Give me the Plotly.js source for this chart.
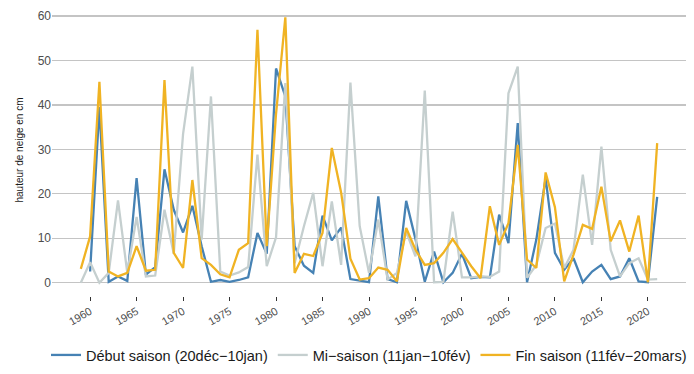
<!DOCTYPE html>
<html>
<head>
<meta charset="utf-8">
<script src="https://cdn.plot.ly/plotly-3.0.1.min.js"></script>
<style>html,body{margin:0;padding:0;background:#fff;}#chart{width:694px;height:374px;}</style>
</head>
<body>
<div id="chart"></div>
<script>
const years = [];
for (let y = 1959; y <= 2021; y++) years.push(y);

const debutSaison = [null, 2.5, 39.5, 0.2, 1.4, 0.4, 23.5, 1.8, 3.5, 25.5,
  16.4, 11.3, 17.3, 8.2, 0.2, 0.6, 0.2, 0.6, 1.2, 11.2,
  6.5, 48.2, 41.9, 8.2, 3.8, 2.2, 15.1, 9.5, 12.4, 0.8,
  0.5, 0.1, 19.4, 0.8, 0.1, 18.4, 9.8, 0.2, 7.0, 0.1,
  2.2, 6.5, 1.0, 1.3, 1.2, 15.3, 8.9, 35.9, 0.1, 9.7,
  23.5, 6.7, 2.9, 5.5, 0.1, 2.5, 4.0, 0.8, 1.4, 5.5,
  0.3, 0.1, 19.3];

const miSaison = [0, 4.6, 0, 2.2, 18.5, 2.2, 14.8, 1.4, 1.6, 16.4,
  6.5, 33.5, 48.6, 9.7, 41.9, 2.5, 1.6, 2.3, 3.5, 28.8,
  3.7, 10.2, 44.9, 4.4, 12.7, 20.2, 3.7, 18.3, 4.0, 45.0,
  12.7, 2.2, 14.2, 0.7, 2.2, 11.5, 5.9, 43.2, 0.1, 0.2,
  16.0, 1.2, 1.2, 1.4, 1.3, 2.5, 42.6, 48.6, 1.1, 4.0,
  12.3, 13.3, 3.3, 7.4, 24.3, 8.5, 30.6, 7.4, 1.4, 4.4,
  5.5, 0.7, 0.8];

const finSaison = [3.1, 10.4, 45.2, 2.5, 1.4, 2.2, 8.2, 2.7, 2.9, 45.6,
  6.7, 3.3, 23.1, 5.5, 4.0, 1.9, 1.2, 7.4, 8.9, 56.9,
  8.2, 38.0, 59.7, 2.2, 6.5, 6.0, 11.2, 30.3, 20.3, 5.4,
  0.7, 1.0, 3.4, 2.9, 0.3, 12.3, 7.4, 4.0, 4.4, 6.7,
  9.8, 6.7, 3.7, 1.0, 17.2, 8.5, 13.4, 31.0, 5.2, 3.3,
  24.8, 17.0, 0.3, 6.3, 13.0, 12.1, 21.6, 9.3, 14.0, 7.0,
  15.1, 0.1, 31.4];

const seriesNames = ["Début saison (20déc−10jan)", "Mi−saison (11jan−10fév)", "Fin saison (11fév−20mars)"];
const seriesColors = ["#4682b4", "#c5cfcf", "#f0b323"];
const xTicks = [1960, 1965, 1970, 1975, 1980, 1985, 1990, 1995, 2000, 2005, 2010, 2015, 2020];
const yTicks = [0, 10, 20, 30, 40, 50, 60];
const yTitle = "hauteur de neige en cm";

const seriesValues = [debutSaison, miSaison, finSaison];
const traces = seriesValues.map((vals, i) => ({
  x: years, y: vals, type: "scatter", mode: "lines",
  name: seriesNames[i],
  line: {color: seriesColors[i], width: 2.3},
  connectgaps: false
}));

const shapes = xTicks.map(t => ({
  type: "line", layer: "between", xref: "x", yref: "paper",
  x0: t, x1: t, y0: 0, y1: 1,
  line: {color: "#ffffff", width: 2.5}
}));

const layout = {
  width: 694, height: 374,
  margin: {l: 52, r: 8, t: 4, b: 77},
  paper_bgcolor: "#ffffff", plot_bgcolor: "#ffffff",
  font: {family: "Liberation Sans, Arial, sans-serif", color: "#1a1a1a"},
  showlegend: true,
  legend: {orientation: "h", x: -0.0095, xanchor: "left", y: -0.198, yanchor: "middle",
    font: {size: 14.5, color: "#1a1a1a"}, itemwidth: 30, traceorder: "normal"},
  xaxis: {
    range: [1955.9, 2024.1], tickvals: xTicks, ticktext: xTicks.map(String),
    tickangle: -30, tickfont: {size: 11, color: "#4d4d4d"},
    showgrid: false, zeroline: false, showline: false,
    ticks: "outside", ticklen: 4, tickwidth: 1, tickcolor: "#333333"
  },
  yaxis: {
    range: [-3, 62.7], tickvals: yTicks, ticktext: yTicks.map(String),
    tickfont: {size: 12, color: "#4d4d4d"},
    showgrid: true, gridcolor: "#c4c4c4", gridwidth: 1.3,
    zeroline: false, showline: false, ticks: "",
    title: {text: yTitle, font: {size: 10, color: "#1a1a1a"}, standoff: 12}
  },
  shapes: shapes
};

Plotly.newPlot("chart", traces, layout, {displayModeBar: false, staticPlot: true});
</script>
</body>
</html>
